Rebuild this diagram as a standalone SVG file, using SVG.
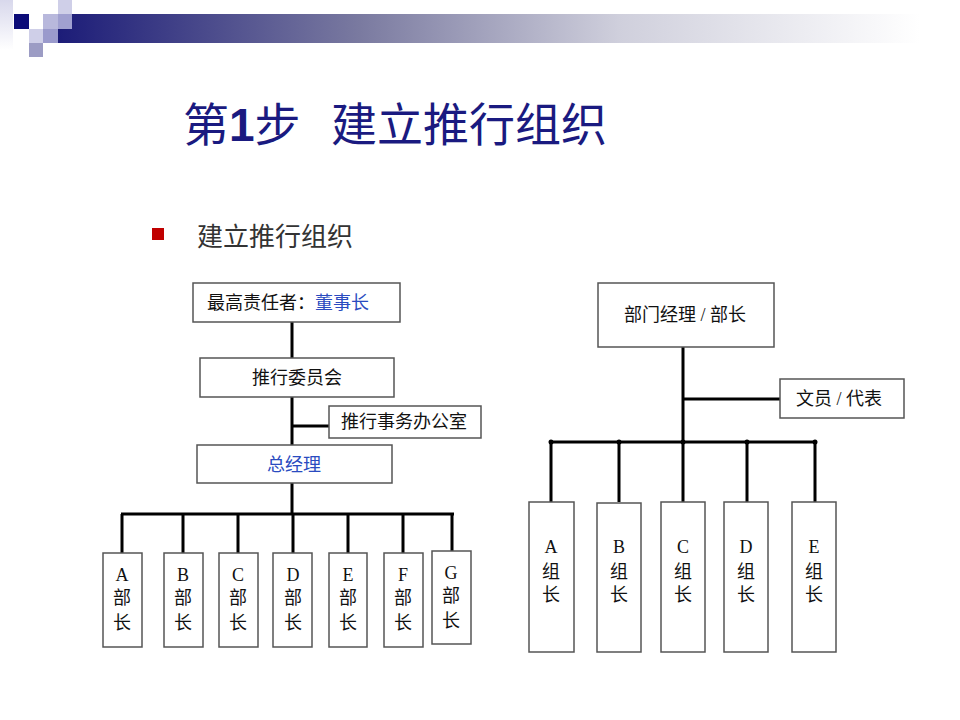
<svg xmlns="http://www.w3.org/2000/svg" width="960" height="720" viewBox="0 0 960 720">
<defs>
<linearGradient id="bar" x1="0" y1="0" x2="1" y2="0">
<stop offset="0" stop-color="#1c1c78"/>
<stop offset="0.35" stop-color="#7a7aa0"/>
<stop offset="0.65" stop-color="#cfcfdc"/>
<stop offset="1" stop-color="#ffffff"/>
</linearGradient>
<linearGradient id="lcol" x1="0" y1="0" x2="0" y2="1">
<stop offset="0" stop-color="#d8d8ec"/>
<stop offset="1" stop-color="#ffffff"/>
</linearGradient>
</defs>
<style>
.box{fill:#fff;stroke:#555;stroke-width:1.5}
.ln{stroke:#000;stroke-width:3;fill:none}
.t{font-family:"Liberation Serif","Noto Sans CJK SC",serif;font-size:18px;fill:#111;text-anchor:middle}
.v{font-family:"Liberation Serif","Noto Sans CJK SC",serif;font-size:18px;fill:#111;text-anchor:middle}
.blue{fill:#2a4bc0}
</style>
<rect width="960" height="720" fill="#fff"/>
<g id="header">
<rect x="0" y="0" width="13" height="50" fill="url(#lcol)"/>
<rect x="58" y="14" width="862" height="29" fill="url(#bar)"/>
<rect x="14" y="14" width="15" height="15" fill="#0c0c78"/>
<rect x="58" y="0" width="14" height="14" fill="#cfcfe8"/>
<rect x="43" y="14" width="15" height="15" fill="#b8b8dc"/>
<rect x="58" y="14" width="14" height="15" fill="#a0a0d0"/>
<rect x="29" y="29" width="14" height="14" fill="#cfcfe8"/>
<rect x="43" y="29" width="15" height="14" fill="#9a9acc"/>
<rect x="29" y="43" width="14" height="14" fill="#9c9cc4"/>
</g>
<g id="title">
<text x="183" y="141" font-family="'Liberation Sans','Noto Sans CJK SC',sans-serif" font-size="46" fill="#1a1a80">第<tspan font-weight="bold">1</tspan>步<tspan x="331">建立推行组织</tspan></text>
</g>
<g id="bullet">
<rect x="152" y="228" width="12" height="12" fill="#c00000"/>
<text x="197" y="246" font-family="'Liberation Sans','Noto Sans CJK SC',sans-serif" font-size="26" fill="#333">建立推行组织</text>
</g>
<g id="connectors">
<path class="ln" d="M292 322V358M292 397V445M292 426H329M292 483V514M121 514H454M122 514V553M183 514V553M238 514V553M293 514V553M348 514V553M403 514V553M452 514V551"/>
<path class="ln" d="M683 347V442M683 399H780M551 442H815M551 442V502M619 442V502M683 442V502M747 442V502M815 442V502"/>
<g fill="#000"><circle cx="551" cy="442" r="2.5"/><circle cx="619" cy="442" r="2.5"/><circle cx="683" cy="442" r="2.5"/><circle cx="747" cy="442" r="2.5"/><circle cx="815" cy="442" r="2.5"/></g>
</g>
<g id="n-chairman"><rect class="box" x="193" y="283" width="207" height="39"/><text class="t" x="288" y="309">最高责任者：<tspan class="blue">董事长</tspan></text></g>
<g id="n-committee"><rect class="box" x="200" y="358" width="194" height="39"/><text class="t" x="297" y="384">推行委员会</text></g>
<g id="n-office"><rect class="box" x="329" y="406" width="152" height="32"/><text class="t" x="404" y="428">推行事务办公室</text></g>
<g id="n-gm"><rect class="box" x="197" y="445" width="195" height="38"/><text class="t blue" x="294" y="471">总经理</text></g>
<g id="n-A"><rect class="box" x="103" y="553" width="39" height="94"/><text class="v" x="122" y="581">A</text><text class="v" x="122" y="604">部</text><text class="v" x="122" y="629">长</text></g>
<g id="n-B"><rect class="box" x="164" y="553" width="39" height="94"/><text class="v" x="183" y="581">B</text><text class="v" x="183" y="604">部</text><text class="v" x="183" y="629">长</text></g>
<g id="n-C"><rect class="box" x="219" y="553" width="39" height="94"/><text class="v" x="238" y="581">C</text><text class="v" x="238" y="604">部</text><text class="v" x="238" y="629">长</text></g>
<g id="n-D"><rect class="box" x="273" y="553" width="39" height="94"/><text class="v" x="293" y="581">D</text><text class="v" x="293" y="604">部</text><text class="v" x="293" y="629">长</text></g>
<g id="n-E"><rect class="box" x="329" y="553" width="38" height="94"/><text class="v" x="348" y="581">E</text><text class="v" x="348" y="604">部</text><text class="v" x="348" y="629">长</text></g>
<g id="n-F"><rect class="box" x="384" y="553" width="39" height="94"/><text class="v" x="403" y="581">F</text><text class="v" x="403" y="604">部</text><text class="v" x="403" y="629">长</text></g>
<g id="n-G"><rect class="box" x="432" y="551" width="39" height="93"/><text class="v" x="451" y="579">G</text><text class="v" x="451" y="602">部</text><text class="v" x="451" y="627">长</text></g>
<g id="n-manager"><rect class="box" x="598" y="283" width="176" height="64"/><text class="t" x="685" y="321">部门经理 / 部长</text></g>
<g id="n-clerk"><rect class="box" x="780" y="379" width="124" height="39"/><text class="t" x="839" y="405">文员 / 代表</text></g>
<g id="n-gA"><rect class="box" x="529" y="502" width="45" height="150"/><text class="v" x="551" y="553">A</text><text class="v" x="551" y="578">组</text><text class="v" x="551" y="601">长</text></g>
<g id="n-gB"><rect class="box" x="597" y="503" width="44" height="149"/><text class="v" x="619" y="553">B</text><text class="v" x="619" y="578">组</text><text class="v" x="619" y="601">长</text></g>
<g id="n-gC"><rect class="box" x="661" y="502" width="44" height="150"/><text class="v" x="683" y="553">C</text><text class="v" x="683" y="578">组</text><text class="v" x="683" y="601">长</text></g>
<g id="n-gD"><rect class="box" x="724" y="502" width="44" height="150"/><text class="v" x="746" y="553">D</text><text class="v" x="746" y="578">组</text><text class="v" x="746" y="601">长</text></g>
<g id="n-gE"><rect class="box" x="792" y="502" width="44" height="150"/><text class="v" x="814" y="553">E</text><text class="v" x="814" y="578">组</text><text class="v" x="814" y="601">长</text></g>
</svg>
